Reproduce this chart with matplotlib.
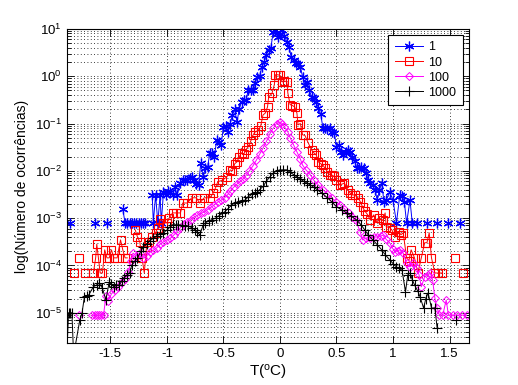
import numpy as np
import matplotlib
matplotlib.use('Agg')
import matplotlib.pyplot as plt
from matplotlib.ticker import LogLocator, NullFormatter, FixedLocator

plt.rcParams['font.family'] = ['Liberation Sans', 'DejaVu Sans']
plt.rcParams['mathtext.fontset'] = 'custom'
plt.rcParams['mathtext.rm'] = 'Liberation Sans'
plt.rcParams['font.size'] = 9.5

# values as (T in degC, log10 of count); None = empty bin (gap)
pts_1 = [(-1.855, -3.1), (-1.75, None), (-1.64, -3.1), (-1.59, None), (-1.53, -3.1), (-1.46, None),
         (-1.39, -2.81), (-1.37, -3.1), (-1.35, -3.1), (-1.33, -3.1), (-1.31, -3.1), (-1.29, -3.1),
         (-1.27, -3.1), (-1.25, -3.1), (-1.23, -3.1), (-1.21, -3.1), (-1.19, -3.1), (-1.16, None),
         (-1.13, -2.51), (-1.12, -3.1), (-1.10, -2.51), (-1.08, -3.1), (-1.06, -2.51), (-1.05, -3.1),
         (-1.03, -2.45), (-1.01, -2.51), (-0.99, -2.42), (-0.97, -2.45), (-0.95, -2.51), (-0.93, -2.34),
         (-0.91, -2.51), (-0.88, -2.26), (-0.86, -2.19), (-0.84, -2.19), (-0.82, -2.19), (-0.80, -2.15),
         (-0.78, -2.13), (-0.76, -2.20), (-0.74, -2.28), (-0.72, -2.30), (-0.70, -1.83), (-0.68, -2.13),
         (-0.66, -1.94), (-0.64, -1.92), (-0.62, -1.62), (-0.60, -1.62), (-0.58, -1.71), (-0.56, -1.35),
         (-0.54, -1.40), (-0.52, -1.45), (-0.50, -1.07), (-0.48, -1.05), (-0.46, -1.18), (-0.44, -1.00),
         (-0.42, -0.82), (-0.40, -0.70), (-0.38, -0.97), (-0.36, -0.69), (-0.34, -0.54), (-0.32, -0.50),
         (-0.30, -0.50), (-0.28, -0.29), (-0.26, -0.29), (-0.24, -0.29), (-0.22, -0.15), (-0.20, -0.01),
         (-0.18, 0.00), (-0.16, 0.20), (-0.14, 0.30), (-0.12, 0.45), (-0.10, 0.56), (-0.08, 0.60),
         (-0.06, 0.94), (-0.04, 0.98), (-0.02, 0.83), (0.00, 0.90), (0.02, 0.98), (0.04, 0.85),
         (0.06, 0.73), (0.08, 0.62), (0.10, 0.40), (0.12, 0.34), (0.14, 0.28), (0.16, 0.26),
         (0.18, 0.20), (0.20, -0.01), (0.22, -0.18), (0.24, -0.12), (0.26, -0.30), (0.28, -0.44),
         (0.30, -0.47), (0.32, -0.55), (0.34, -0.67), (0.36, -0.80), (0.38, -1.09), (0.40, -1.09),
         (0.42, -1.12), (0.44, -1.10), (0.46, -1.18), (0.48, -1.20), (0.50, -1.49), (0.52, -1.45),
         (0.54, -1.60), (0.56, -1.66), (0.58, -1.60), (0.60, -1.56), (0.62, -1.60), (0.64, -1.70),
         (0.66, -1.80), (0.68, -1.94), (0.70, -1.95), (0.72, -1.92), (0.74, -1.95), (0.76, -2.04),
         (0.78, -2.19), (0.80, -2.26), (0.82, -2.30), (0.84, -2.40), (0.86, -2.62), (0.88, -2.40),
         (0.90, -2.26), (0.92, -2.66), (0.94, -2.62), (0.97, -2.45), (1.00, -2.62), (1.03, -3.1),
         (1.06, -2.51), (1.08, -2.53), (1.10, -2.66), (1.12, -3.1), (1.15, -2.62), (1.17, -3.1),
         (1.19, None), (1.21, -3.1), (1.26, None), (1.30, -3.1), (1.35, None), (1.39, -3.1),
         (1.44, None), (1.49, -3.1), (1.54, None), (1.59, -3.1)]

pts_10 = [(-1.82, -4.16), (-1.80, None), (-1.78, -3.84), (-1.75, None), (-1.72, -4.16), (-1.69, None),
          (-1.65, -4.16), (-1.63, -3.84), (-1.62, -3.55), (-1.59, -4.16), (-1.57, -4.16), (-1.55, -3.67),
          (-1.53, -3.84), (-1.51, -3.84), (-1.49, -3.67), (-1.47, -3.84), (-1.44, -3.84), (-1.41, -3.46),
          (-1.39, -3.67), (-1.37, -3.84), (-1.35, -3.84), (-1.32, None), (-1.28, -3.25), (-1.26, -3.40),
          (-1.24, -3.50), (-1.22, -3.84), (-1.20, -4.16), (-1.18, -3.60), (-1.16, -3.50), (-1.13, -3.40),
          (-1.10, -3.31), (-1.08, -3.20), (-1.06, -3.02), (-1.03, -3.10), (-1.00, -3.10), (-0.98, -3.00),
          (-0.95, -2.89), (-0.92, -2.89), (-0.88, -2.89), (-0.86, -2.68), (-0.82, -2.68), (-0.78, -2.57),
          (-0.74, -2.57), (-0.71, -2.68), (-0.67, -2.57), (-0.62, -2.57), (-0.59, -2.47), (-0.57, -2.36),
          (-0.55, -2.23), (-0.51, -2.20), (-0.47, -2.13), (-0.44, -1.98), (-0.42, -2.00), (-0.40, -1.85),
          (-0.38, -1.81), (-0.36, -1.70), (-0.34, -1.62), (-0.32, -1.65), (-0.30, -1.55), (-0.28, -1.49),
          (-0.26, -1.38), (-0.24, -1.25), (-0.22, -1.18), (-0.19, -1.14), (-0.17, -1.05), (-0.15, -0.82),
          (-0.13, -0.78), (-0.11, -0.65), (-0.10, -0.44), (-0.07, -0.36), (-0.05, -0.18), (-0.04, 0.03),
          (-0.02, 0.03), (0.00, 0.02), (0.02, -0.12), (0.04, -0.10), (0.06, -0.12), (0.07, -0.36),
          (0.09, -0.60), (0.11, -0.62), (0.13, -0.65), (0.15, -0.78), (0.16, -1.03), (0.18, -1.00),
          (0.20, -1.24), (0.22, -1.25), (0.25, -1.41), (0.28, -1.56), (0.30, -1.62), (0.32, -1.66),
          (0.34, -1.81), (0.36, -1.85), (0.38, -1.88), (0.40, -1.95), (0.42, -2.02), (0.44, -2.08),
          (0.46, -2.09), (0.48, -2.12), (0.50, -2.19), (0.53, -2.30), (0.55, -2.28), (0.57, -2.26),
          (0.60, -2.40), (0.62, -2.47), (0.64, -2.51), (0.66, -2.51), (0.69, -2.57), (0.71, -2.65),
          (0.73, -2.76), (0.75, -2.85), (0.77, -2.91), (0.80, -3.04), (0.83, -2.93), (0.86, -3.10),
          (0.88, -3.00), (0.91, -3.05), (0.93, -2.89), (0.94, -3.18), (0.97, -3.20), (0.99, -3.25),
          (1.02, -3.40), (1.05, -3.29), (1.07, -3.35), (1.09, -3.31), (1.12, -3.84), (1.14, -3.90),
          (1.16, -3.67), (1.19, -3.84), (1.22, -4.16), (1.25, -3.84), (1.28, -3.52), (1.30, -3.52),
          (1.32, -3.31), (1.34, -3.84), (1.37, -4.16), (1.40, -4.16), (1.43, -4.16), (1.48, None),
          (1.55, -3.84), (1.58, None), (1.62, -4.16)]

pts_100 = [(-1.78, -5.05), (-1.72, None), (-1.66, -5.05), (-1.64, -5.05), (-1.62, -5.05), (-1.60, -5.05),
           (-1.58, -5.05), (-1.56, -5.05), (-1.54, -4.65), (-1.52, -4.75), (-1.49, -4.60), (-1.46, -4.52),
           (-1.43, -4.45), (-1.40, -4.35), (-1.37, -4.28), (-1.34, -4.14), (-1.32, -3.90), (-1.30, -3.74),
           (-1.27, -3.80), (-1.24, -3.74), (-1.21, -3.85), (-1.18, -3.80), (-1.15, -3.72), (-1.12, -3.68),
           (-1.09, -3.63), (-1.06, -3.55), (-1.03, -3.50), (-1.00, -3.46), (-0.97, -3.43), (-0.94, -3.36),
           (-0.91, -3.28), (-0.88, -3.20), (-0.85, -3.12), (-0.82, -3.08), (-0.79, -3.03), (-0.76, -2.98),
           (-0.73, -2.94), (-0.70, -2.90), (-0.67, -2.87), (-0.64, -2.82), (-0.61, -2.77), (-0.58, -2.72),
           (-0.55, -2.66), (-0.52, -2.62), (-0.49, -2.57), (-0.46, -2.50), (-0.44, -2.42), (-0.41, -2.35),
           (-0.38, -2.28), (-0.35, -2.22), (-0.33, -2.18), (-0.30, -2.10), (-0.27, -2.00), (-0.24, -1.90),
           (-0.21, -1.78), (-0.18, -1.65), (-0.15, -1.52), (-0.12, -1.38), (-0.09, -1.22), (-0.06, -1.10),
           (-0.03, -1.00), (0.00, -0.97), (0.02, -1.00), (0.04, -1.07), (0.07, -1.18), (0.09, -1.30),
           (0.12, -1.45), (0.15, -1.60), (0.18, -1.75), (0.20, -1.88), (0.23, -1.98), (0.27, -2.09),
           (0.30, -2.20), (0.34, -2.30), (0.38, -2.40), (0.42, -2.48), (0.46, -2.58), (0.50, -2.66),
           (0.53, -2.72), (0.57, -2.80), (0.61, -2.90), (0.64, -2.97), (0.67, -3.05), (0.71, -3.29),
           (0.73, -3.46), (0.76, -3.42), (0.80, -3.42), (0.83, -3.40), (0.86, -3.40), (0.89, -3.38),
           (0.91, -3.36), (0.94, -3.45), (0.97, -3.52), (1.00, -3.65), (1.02, -3.71), (1.04, -3.69),
           (1.06, -3.67), (1.09, -3.74), (1.12, -3.95), (1.15, -4.03), (1.18, -3.95), (1.21, -4.05),
           (1.23, -4.20), (1.25, -4.45), (1.28, -4.24), (1.31, -4.20), (1.33, -4.16), (1.35, -4.31),
           (1.37, -4.69), (1.39, -4.90), (1.41, -5.05), (1.44, -5.05), (1.47, -4.73), (1.49, -5.05),
           (1.53, -5.05), (1.57, -5.05), (1.61, -5.05), (1.65, -5.05)]

pts_1000 = [(-1.885, -5.9), (-1.87, -5.0), (-1.855, -5.0), (-1.84, -5.0), (-1.825, -5.9), (-1.77, -5.15),
            (-1.75, -5.00), (-1.73, -4.67), (-1.71, -4.65), (-1.69, -4.62), (-1.65, -4.45), (-1.62, -4.41),
            (-1.60, -4.37), (-1.57, -4.48), (-1.54, -4.73), (-1.51, -4.35), (-1.49, -4.40), (-1.47, -4.45),
            (-1.45, -4.42), (-1.42, -4.41), (-1.40, -4.33), (-1.38, -4.26), (-1.35, -4.20), (-1.33, -4.16),
            (-1.31, -3.99), (-1.28, -3.90), (-1.26, -3.84), (-1.23, -3.70), (-1.21, -3.61), (-1.18, -3.55),
            (-1.15, -3.48), (-1.12, -3.42), (-1.09, -3.38), (-1.06, -3.33), (-1.03, -3.31), (-1.00, -3.25),
            (-0.97, -3.18), (-0.95, -3.14), (-0.92, -3.14), (-0.90, -3.14), (-0.87, -3.15), (-0.84, -3.17),
            (-0.81, -3.17), (-0.78, -3.20), (-0.75, -3.25), (-0.73, -3.29), (-0.71, -3.36), (-0.68, -3.15),
            (-0.66, -3.10), (-0.63, -3.06), (-0.60, -3.03), (-0.57, -3.00), (-0.54, -2.95), (-0.51, -2.90),
            (-0.49, -2.87), (-0.46, -2.80), (-0.43, -2.73), (-0.40, -2.68), (-0.37, -2.65), (-0.34, -2.63),
            (-0.31, -2.62), (-0.28, -2.55), (-0.25, -2.50), (-0.22, -2.47), (-0.20, -2.45), (-0.18, -2.40),
            (-0.15, -2.33), (-0.12, -2.22), (-0.09, -2.13), (-0.06, -2.05), (-0.03, -2.00), (0.00, -1.98),
            (0.03, -1.98), (0.06, -1.98), (0.09, -2.03), (0.12, -2.08), (0.15, -2.13), (0.18, -2.18),
            (0.21, -2.22), (0.24, -2.26), (0.27, -2.30), (0.30, -2.35), (0.33, -2.40), (0.37, -2.47),
            (0.42, -2.57), (0.46, -2.66), (0.50, -2.76), (0.55, -2.83), (0.59, -2.89), (0.63, -2.96),
            (0.68, -3.04), (0.72, -3.15), (0.75, -3.25), (0.78, -3.35), (0.82, -3.46), (0.86, -3.56),
            (0.90, -3.67), (0.93, -3.77), (0.97, -3.88), (1.00, -3.96), (1.03, -4.03), (1.05, -4.06),
            (1.08, -4.10), (1.11, -4.56), (1.13, -4.20), (1.15, -4.16), (1.17, -4.30), (1.19, -4.41),
            (1.22, -4.55), (1.24, -4.67), (1.27, -4.90), (1.29, -4.70), (1.31, -4.58), (1.34, -4.90),
            (1.37, -4.90), (1.39, -5.32), (1.45, None), (1.56, -5.15)]

labels = ['1', '10', '100', '1000']
x_ticks = [-1.5, -1, -0.5, 0, 0.5, 1, 1.5]
y_ticks = [1e-5, 1e-4, 1e-3, 1e-2, 1e-1, 1e0, 1e1]


def split(pts):
    x = np.array([p[0] for p in pts])
    y = np.array([np.nan if p[1] is None else 10.0 ** p[1] for p in pts])
    return x, y


fig = plt.figure(figsize=(5.18, 3.85), dpi=100)
ax = fig.add_axes([0.129, 0.109, 0.776, 0.816])

asterisk = (6, 2, 0)
x, y = split(pts_1)
ax.semilogy(x, y, '-', marker=asterisk, color='#0000ff', lw=0.7, ms=7, mew=0.9, label=labels[0])
x, y = split(pts_10)
ax.semilogy(x, y, '-s', color='#ff0000', lw=0.7, ms=6, mew=0.8, mfc='none', label=labels[1])
x, y = split(pts_100)
ax.semilogy(x, y, '-D', color='#ff00ff', lw=0.7, ms=3.8, mew=0.7, mfc='none', label=labels[2])
x, y = split(pts_1000)
ax.semilogy(x, y, '-+', color='#000000', lw=0.7, ms=7, mew=0.8, label=labels[3])

ax.set_xlim(-1.885, 1.67)
ax.set_ylim(10 ** -5.64, 10)
ax.xaxis.set_major_locator(FixedLocator(x_ticks))
ax.set_xticklabels([f'{t:g}' for t in x_ticks])
ax.yaxis.set_major_locator(FixedLocator(y_ticks))
ax.yaxis.set_minor_locator(LogLocator(base=10, subs=np.arange(2, 10), numticks=20))
ax.yaxis.set_minor_formatter(NullFormatter())

dots = (0, (1, 3))
ax.grid(True, which='major', ls=dots, color='black', lw=0.6)
ax.yaxis.grid(True, which='minor', ls=dots, color='black', lw=0.6)
ax.set_axisbelow(True)

ax.tick_params(which='both', direction='in', top=True, right=True, color='black')
ax.tick_params(which='major', length=5, width=0.6)
ax.tick_params(which='minor', length=3, width=0.6)
for s in ax.spines.values():
    s.set_linewidth(0.8)

ax.set_xlabel(r'$\mathregular{T(^oC)}$', fontsize=11, labelpad=2)
ax.set_ylabel('log(Número de ocorrências)', fontsize=10)

leg = ax.legend(loc='upper right', fancybox=False, edgecolor='black', framealpha=1,
                handlelength=2.3, handletextpad=0.4, borderpad=0.5, borderaxespad=0.5,
                labelspacing=0.25, fontsize=9)
leg.get_frame().set_linewidth(0.8)

fig.savefig('out.png', dpi=100)
